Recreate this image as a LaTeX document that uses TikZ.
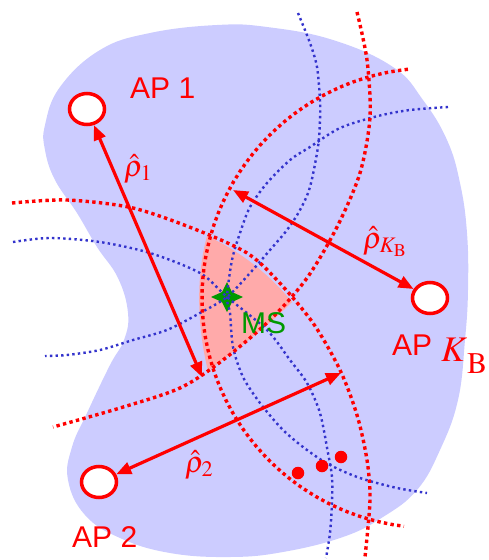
\documentclass[tikz,border=0pt]{standalone}
\usepackage{mathptmx}
\usepackage[no-math]{fontspec}
\setsansfont{Liberation Sans}
\usepackage{tikz}
\usetikzlibrary{arrows.meta, shapes.geometric}
\definecolor{areaFill}{RGB}{204,204,255}
\definecolor{regionFill}{RGB}{255,170,170}
\definecolor{lineEst}{RGB}{255,0,0}
\definecolor{lineTrue}{RGB}{51,51,204}
\definecolor{msGreen}{RGB}{0,153,0}
\tikzset{
  apNode/.style={
    ellipse,
    draw=lineEst,
    line width=3.5pt,
    fill=white,
    minimum width=35pt,
    minimum height=31pt,
    inner sep=0pt
  },
  apLabel/.style={anchor=base west, inner sep=0pt, text=lineEst, font=\fontsize{30}{36}\selectfont\sffamily},
  rangeLabel/.style={anchor=base west, inner sep=0pt, text=lineEst, font=\fontsize{30}{36}\selectfont},
  msLabel/.style={apLabel, text=msGreen},
  estArc/.style={draw=lineEst, line width=3.4pt, dash pattern=on 3.4pt off 3.3pt},
  trueArc/.style={draw=lineTrue, line width=2.4pt, dash pattern=on 2.4pt off 3.2pt},
  rangeFlow/.style={{Triangle[length=15pt,width=12pt]}-{Triangle[length=15pt,width=12pt]}, line width=3.2pt, draw=lineEst},
  msStar/.style={fill=msGreen},
  hitDot/.style={circle, fill=lineEst, minimum size=12.5pt, inner sep=0pt}
}

\begin{document}
\begin{tikzpicture}[x=1pt, y=-1pt]
  \useasboundingbox (0,0) rectangle (488,560);

  % coverage area
  \fill[areaFill] plot[smooth cycle, tension=0.7] coordinates {
    (217,25) (267,27) (333,40) (393,67) (423,100) (447,140) (460,183) (467,233)
    (468,290) (465,340) (458,400) (440,450) (417,490) (383,517) (343,537) (283,552)
    (230,557) (170,553) (120,538) (85,515) (68,480) (72,447) (87,413) (110,365)
    (124,340) (128,313) (118,278) (97,247) (77,213) (55,180) (45,150) (45,125)
    (60,87) (100,50) (150,33)};

  % region of the estimated position
  \fill[regionFill] (207,236) .. controls (240,251) and (269,274) .. (292,302)
    .. controls (267,327) and (237,349) .. (208,371)
    .. controls (198,330) and (195,280) .. cycle;

  % mobile station
  \coordinate (ms) at (227,297);
  \fill[msStar, shift={(ms)}] (-16,0) -- (-5,-5) -- (0,-15) -- (5,-5) -- (16,0)
    -- (5,5) -- (0,15) -- (-5,5) -- cycle;

  % true distances
  \draw[trueArc] plot[smooth] coordinates {(298,13) (310,43) (317,67) (320,100) (320,120)
    (318,147) (310,187) (300,210) (287,230) (270,250) (250,273) (227,297)
    (200,313) (167,330) (133,340) (100,350) (67,355) (45,356)};
  \draw[trueArc] plot[smooth] coordinates {(13,242) (50,238) (100,242) (150,253) (200,273)
    (227,297) (267,330) (290,360) (307,383) (320,413) (328,453) (332,477)
    (332,503) (330,533) (326,558)};
  \draw[trueArc] plot[smooth] coordinates {(448,107) (410,110) (378,116) (340,128) (310,147)
    (290,160) (267,183) (250,207) (240,233) (232,260) (227,297) (230,313)
    (233,347) (243,377) (260,403) (283,430) (307,450) (330,465) (360,478)
    (397,488) (427,493)};

  % estimated distances
  \draw[estArc] plot[smooth] coordinates {(357,12) (367,60) (370,117) (360,173) (337,227)
    (307,278) (270,320) (223,360) (180,388) (120,408) (53,427)};
  \draw[estArc] plot[smooth] coordinates {(12,203) (67,200) (133,208) (197,230) (247,253)
    (277,280) (313,323) (340,370) (357,415) (367,460) (370,500) (365,557)};
  \draw[estArc] plot[domain=96:263, samples=60] ({432+230*cos(\x)}, {298-230*sin(\x)});

  \node[apNode] (ap1) at (87,109) {};
  \node[apNode] (ap2) at (99,482) {};
  \node[apNode] (apk) at (430,298) {};

  \coordinate (est1) at (202,377);
  \coordinate (estk) at (233,190);
  \coordinate (est2) at (341,373);

  \draw[rangeFlow] (ap1) -- (est1);
  \draw[rangeFlow] (estk) -- (apk);
  \draw[rangeFlow] (ap2) -- (est2);

  \node[hitDot] (hit1) at (298,473) {};
  \node[hitDot] (hit2) at (322,466) {};
  \node[hitDot] (hit3) at (341,457) {};

  \node[apLabel] (ap1label) at (130,98) {AP 1};
  \node[apLabel] (ap2label) at (72,547) {AP 2};
  \node[apLabel] (apklabel) at (392,355) {AP\hspace{9pt}\raisebox{-6pt}{\fontsize{36}{40}\selectfont$K$}\raisebox{-18pt}{\fontsize{30}{34}\selectfont$\mathrm{B}$}};
  \node[msLabel] (mslabel) at (241,333) {MS};

  \node[rangeLabel] (rho1) at (124,176) {$\hat{\rho}_1$};
  \node[rangeLabel] (rhok) at (363,248) {$\hat{\rho}_{K_\mathrm{B}}$};
  \node[rangeLabel] (rho2) at (185,472) {$\hat{\rho}_2$};
\end{tikzpicture}
\end{document}
